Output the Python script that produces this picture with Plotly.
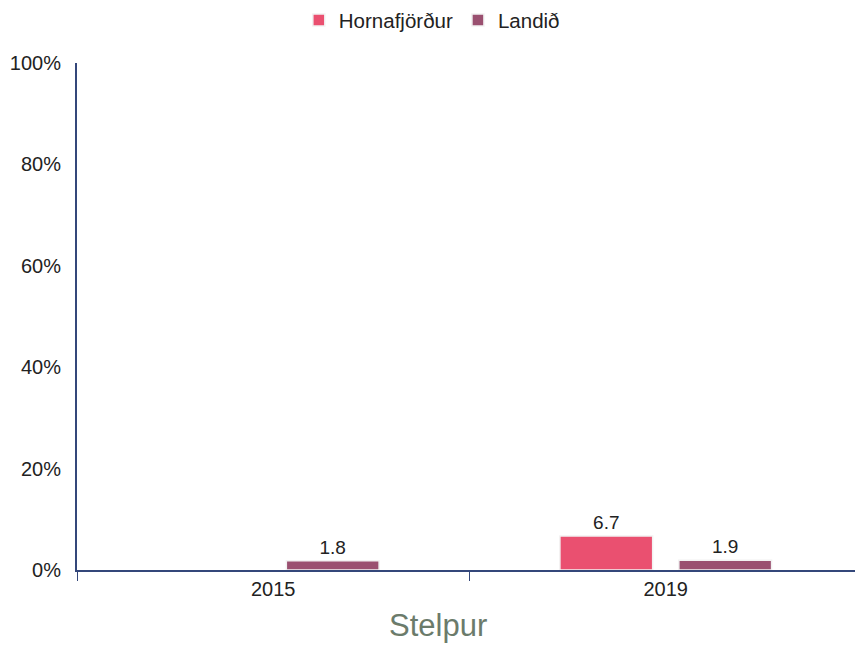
import plotly.graph_objects as go

categories = ["2015", "2019"]
horna_values = [None, 6.7]
landid_values = [1.8, 1.9]
series_names = ["Hornafjörður", "Landið"]
y_ticks = [0, 20, 40, 60, 80, 100]
y_tick_labels = ["0%", "20%", "40%", "60%", "80%", "100%"]
chart_title = "Stelpur"

fig = go.Figure()
fig.add_trace(go.Bar(
    x=categories, y=horna_values, name=series_names[0],
    marker=dict(color="#EA5070", line=dict(color="#f2f2f2", width=1.5)),
    text=["" if v is None else f"{v}" for v in horna_values],
    textposition="outside", textfont=dict(size=19, color="#222222"),
    cliponaxis=False,
))
fig.add_trace(go.Bar(
    x=categories, y=landid_values, name=series_names[1],
    marker=dict(color="#9A5070", line=dict(color="#f2f2f2", width=1.5)),
    text=[f"{v}" for v in landid_values],
    textposition="outside", textfont=dict(size=19, color="#222222"),
    cliponaxis=False,
))

fig.add_annotation(
    text=chart_title, xref="paper", yref="paper", x=0.46, y=-0.11,
    xanchor="center", yanchor="middle", showarrow=False,
    font=dict(size=31, color="#6b7b6b"),
)

# page body has an 8px margin; compensate so the plot lands where the reference has it
fig.update_layout(
    width=855, height=638,
    margin=dict(l=69, r=1, t=55, b=76, autoexpand=False),
    paper_bgcolor="white", plot_bgcolor="white",
    font=dict(family="Liberation Sans, Arial, sans-serif", size=20, color="#222222"),
    barmode="group", bargap=0.394, bargroupgap=0.22,
    showlegend=True,
    legend=dict(orientation="h", x=0.452, xanchor="center",
                yref="container", y=0.981, yanchor="middle",
                font=dict(size=20.5), traceorder="normal", tracegroupgap=0),
    xaxis=dict(
        type="category", showline=True, linecolor="#34477a", linewidth=2,
        ticks="outside", tickson="boundaries", ticklen=9, tickcolor="#34477a",
        showgrid=False, tickfont=dict(size=20),
    ),
    yaxis=dict(
        range=[0, 100], tickmode="array", tickvals=y_ticks, ticktext=y_tick_labels,
        showline=True, linecolor="#34477a", linewidth=2,
        showgrid=False, zeroline=False, tickfont=dict(size=20),
        ticks="", ticklabelstandoff=10,
    ),
)

fig.write_html("out.html")
